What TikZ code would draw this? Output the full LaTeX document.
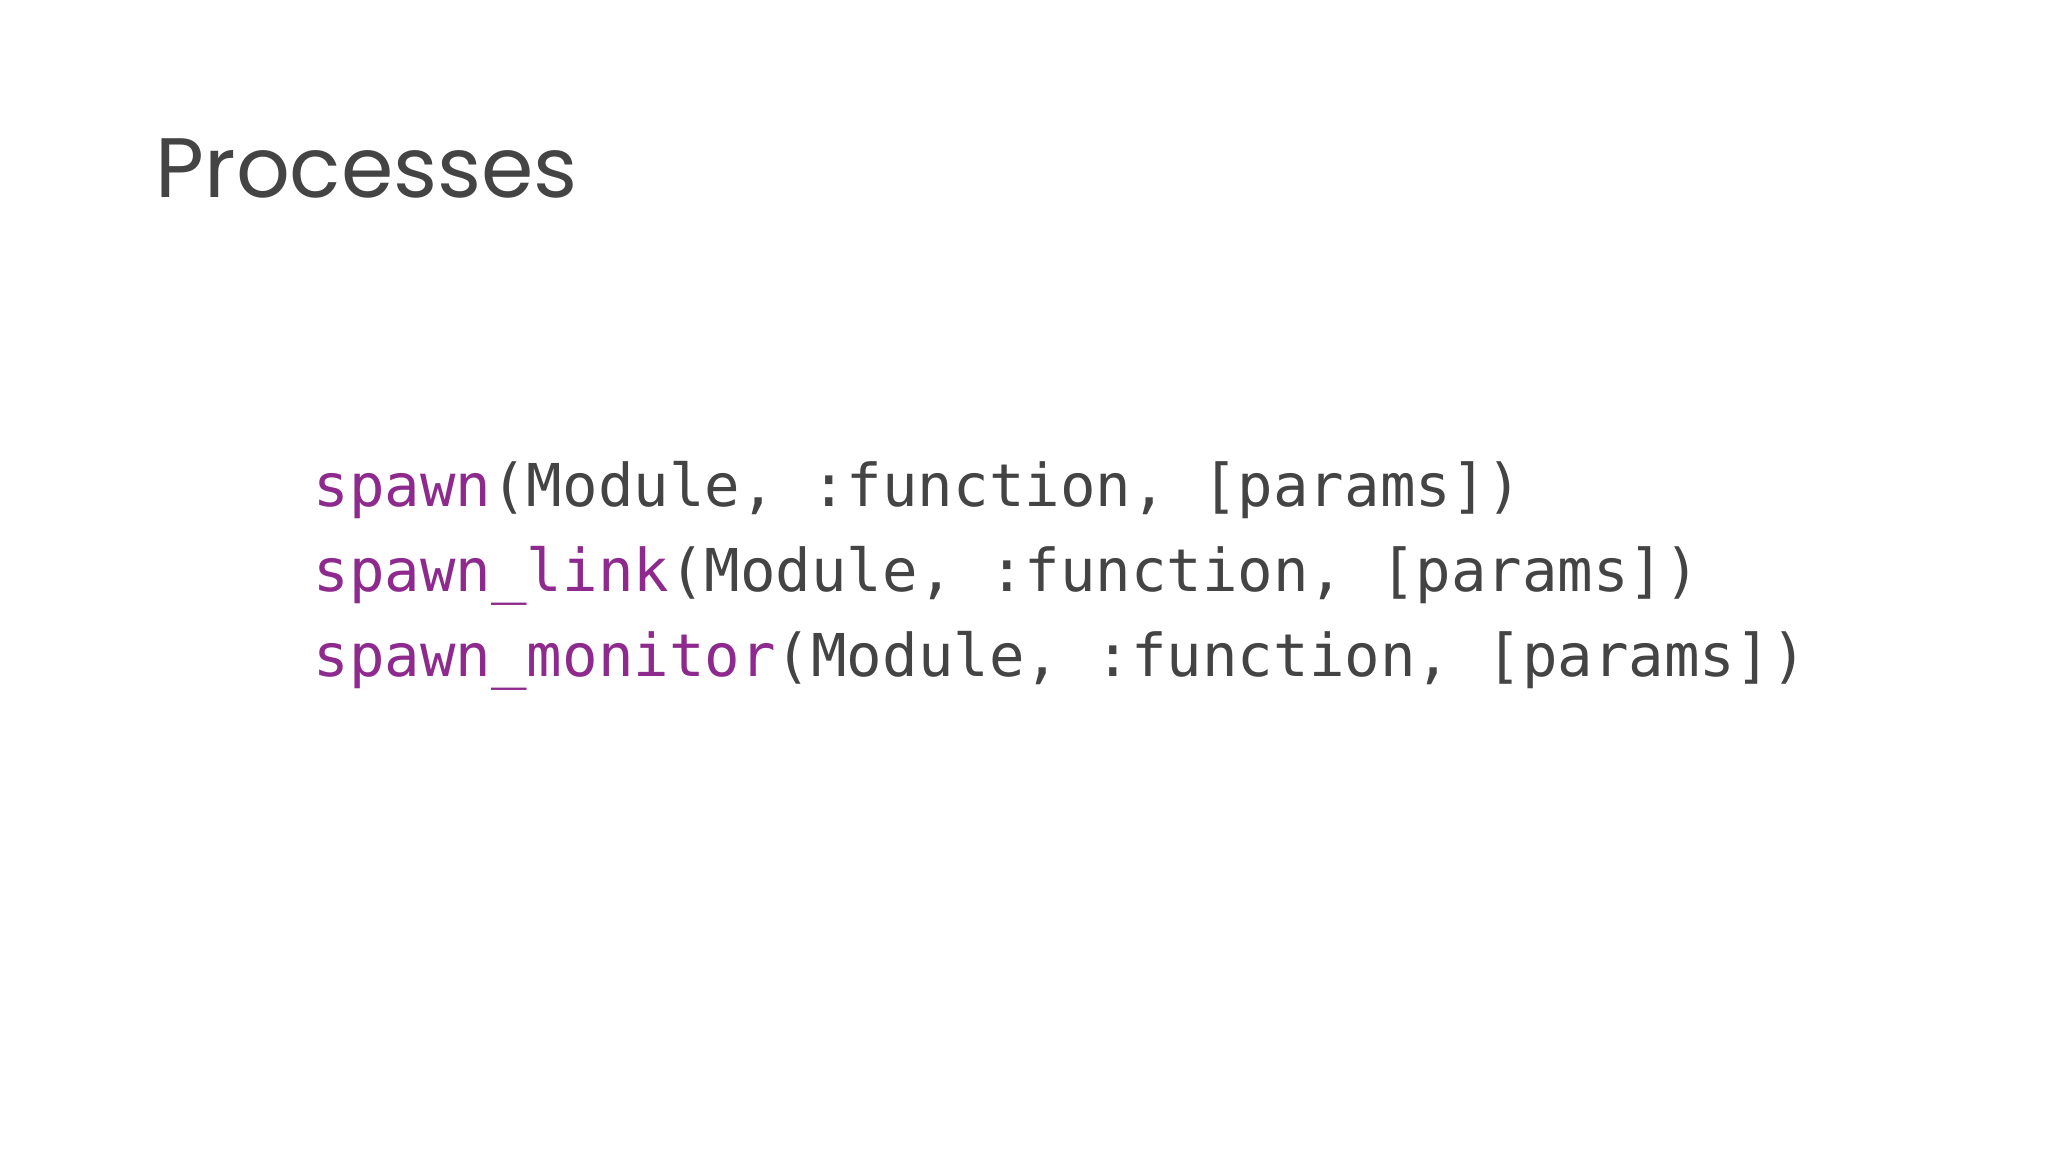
\documentclass[tikz,border=0pt]{standalone}
\usepackage{fontspec}
\setmainfont{Poppins}
\newfontfamily\codefont{DejaVu Sans Mono}
\definecolor{kw}{HTML}{8E2A8E}
\definecolor{txt}{HTML}{444444}
\begin{document}
\begin{tikzpicture}[x=1cm,y=1cm,
  codeline/.style={anchor=base west,inner sep=0pt,font=\codefont\fontsize{16.8pt}{20pt}\selectfont,text=txt}]
\useasboundingbox[fill=white] (0,0) rectangle (20.48,11.52);
\node[anchor=base west,inner sep=0pt,text=txt,font=\fontsize{24pt}{28pt}\selectfont] (title) at (1.55,9.54) {Processes};
\node[codeline] (l1) at (3.13,6.45) {\textcolor{kw}{spawn}(Module, :function, [params])};
\node[codeline] (l2) at (3.13,5.60) {\textcolor{kw}{spawn\_link}(Module, :function, [params])};
\node[codeline] (l3) at (3.13,4.75) {\textcolor{kw}{spawn\_monitor}(Module, :function, [params])};
\end{tikzpicture}
\end{document}
